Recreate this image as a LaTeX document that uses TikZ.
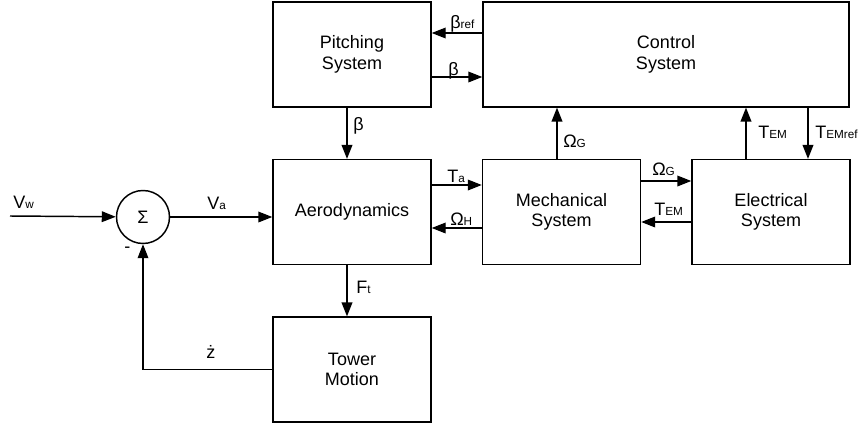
\documentclass[tikz,border=0pt]{standalone}
\usepackage{fontspec}
\setmainfont{Liberation Sans}
\usetikzlibrary{positioning,arrows.meta}
\newcommand{\subtxt}[1]{{\fontsize{8.8}{10}\selectfont #1}}
\tikzset{
  sigarrow/.style={-{Triangle[length=10.5pt,width=8pt]}, line width=1.1pt},
  sigline/.style={line width=1.1pt},
  block/.style={draw, line width=1.1pt, minimum width=118.5pt, minimum height=78.5pt, align=center, inner sep=0pt},
  wideblock/.style={block, minimum width=274.5pt},
  sumnode/.style={draw, circle, line width=1.1pt, minimum size=39.75pt, inner sep=0pt},
  siglabel/.style={anchor=base west, inner sep=0pt}
}
\begin{document}
\begin{tikzpicture}[x=0.75pt, y=-0.75pt, every node/.style={font=\fontsize{13.5}{15.5}\selectfont}]
  \useasboundingbox (0,0) rectangle (858,425);
  % blocks
  \node[block] (pitch) at (352,54.5) {Pitching\\ System};
  \node[wideblock] (ctrl) at (666,54.5) {Control\\ System};
  \node[block] (aero) at (352,212) {Aerodynamics};
  \node[block] (mech) at (561.5,212) {Mechanical\\ System};
  \node[block] (elec) at (771,212) {Electrical\\ System};
  \node[block] (tower) at (352,369.5) {Tower\\ Motion};
  \node[sumnode] (sum) at (143,217) {Σ};
  \coordinate (vw) at (10,216);
  % connectors
  \draw[sigarrow] (vw) -- (sum);
  \draw[sigarrow] (sum) -- (sum -| aero.west);
  \draw[sigarrow] (tower.west) -| (sum.south);
  \draw[sigarrow] (ctrl.west |- 0,33) -- (pitch.east |- 0,33);
  \draw[sigarrow] (pitch.east |- 0,77) -- (ctrl.west |- 0,77);
  \draw[sigarrow] (pitch.south -| 347,0) -- (aero.north -| 347,0);
  \draw[sigarrow] (aero.south -| 347,0) -- (tower.north -| 347,0);
  \draw[sigarrow] (aero.east |- 0,185) -- (mech.west |- 0,185);
  \draw[sigarrow] (mech.west |- 0,228) -- (aero.east |- 0,228);
  \draw[sigarrow] (mech.north -| 557,0) -- (ctrl.south -| 557,0);
  \draw[sigarrow] (mech.east |- 0,181) -- (elec.west |- 0,181);
  \draw[sigarrow] (elec.west |- 0,222) -- (mech.east |- 0,222);
  \draw[sigarrow] (elec.north -| 746,0) -- (ctrl.south -| 746,0);
  \draw[sigarrow] (ctrl.south -| 808,0) -- (elec.north -| 808,0);
  % labels
  \node[siglabel] (lvw) at (13,208) {V\subtxt{w}};
  \node[siglabel] (lva) at (207,209) {V\subtxt{a}};
  \node[siglabel] (lzdot) at (206,358) {ż};
  \node[siglabel] (lminus) at (124,252) {-};
  \node[siglabel] (lbref) at (450,28) {β\subtxt{ref}};
  \node[siglabel] (lbeta) at (448,75) {β};
  \node[siglabel] (lbdown) at (353,130) {β};
  \node[siglabel] (lft) at (356,293) {F\subtxt{t}};
  \node[siglabel] (lta) at (447,182) {T\subtxt{a}};
  \node[siglabel] (loh) at (450,225) {Ω\subtxt{H}};
  \node[siglabel] (logup) at (563,147) {Ω\subtxt{G}};
  \node[siglabel] (log) at (652,175) {Ω\subtxt{G}};
  \node[siglabel] (ltem) at (654,215) {T\subtxt{EM}};
  \node[siglabel] (ltemup) at (758,138) {T\subtxt{EM}};
  \node[siglabel] (ltemref) at (815,138) {T\subtxt{EMref}};
\end{tikzpicture}
\end{document}
